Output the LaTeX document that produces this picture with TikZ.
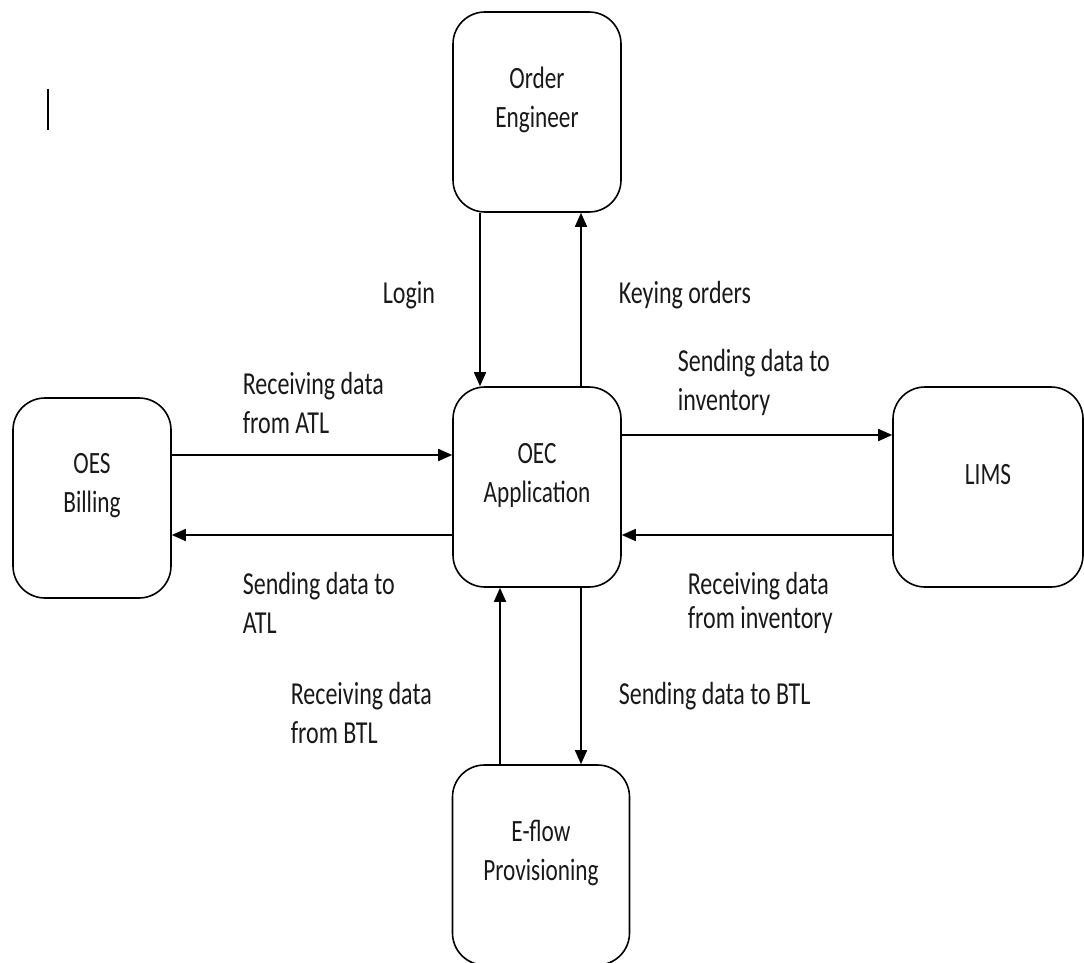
\documentclass[tikz,border=0pt]{standalone}
\usepackage{fontspec}
\setmainfont{Carlito}[FakeStretch=0.75]
\usetikzlibrary{arrows.meta}

\begin{document}
\begin{tikzpicture}[x=1pt,y=-1pt,line width=1.6pt,>={Triangle[length=14pt,width=12pt]}]

\newcommand{\hcaixa}{200}
\newcommand{\raio}{32pt}

\tikzstyle{caixa}=[draw,rounded corners=\raio,minimum height=\hcaixa,inner sep=0]
\tikzstyle{nome}=[align=center,font=\fontsize{31}{39}\selectfont,text=black!90]
\tikzstyle{fluxo}=[align=left,anchor=base west,inner sep=0,font=\fontsize{32}{39}\selectfont,text=black!90]

\newcommand{\bloco}[5]{
    \node[caixa,minimum width=#4] (#1) at (#2,#3) {};
    \node[nome] (#1txt) at ([yshift=12pt]#1.center) {#5};
}

\useasboundingbox (0,0) rectangle (1084,963);

% cursor mark
\draw[line width=2pt] (48,89) -- (48,130);

\bloco{engineer}{537}{112}{168}{Order\\Engineer}
\bloco{oec}{537}{487}{168}{OEC\\Application}
\bloco{billing}{92}{498}{158}{OES\\Billing}
\bloco{lims}{988}{487}{190}{LIMS}
\bloco{eflow}{541}{865}{177}{E-flow\\Provisioning}

% order engineer
\draw[->] ([xshift=-57pt]oec.north |- engineer.south) -- ([xshift=-57pt]oec.north);
\draw[->] ([xshift=44pt]oec.north) -- ([xshift=44pt]oec.north |- engineer.south);

% billing
\draw[->] ([yshift=32pt]oec.west -| billing.east) -- ([yshift=32pt]oec.west);
\draw[->] ([yshift=-48pt]oec.west) -- ([yshift=-48pt]oec.west -| billing.east);

% lims
\draw[->] ([yshift=52pt]oec.east) -- ([yshift=52pt]oec.east -| lims.west);
\draw[->] ([yshift=-48pt]oec.east -| lims.west) -- ([yshift=-48pt]oec.east);

% e-flow
\draw[->] ([xshift=-37pt]oec.south |- eflow.north) -- ([xshift=-37pt]oec.south);
\draw[->] ([xshift=44pt]oec.south) -- ([xshift=44pt]oec.south |- eflow.north);

% labels (base of last line)
\node[fluxo] (login) at (382,303) {Login};
\node[fluxo] (keying) at (618,303) {Keying orders};
\node[fluxo] (recatl) at (242,433) {Receiving data\\from ATL};
\node[fluxo] (sendatl) at (242,633) {Sending data to\\ATL};
\node[fluxo] (sendinv) at (677,410) {Sending data to\\inventory};
\node[fluxo] (recinv) at (687,628) {Receiving data\\[-5pt]from inventory};
\node[fluxo] (recbtl) at (290,743) {Receiving data\\from BTL};
\node[fluxo] (sendbtl) at (618,704) {Sending data to BTL};

\end{tikzpicture}
\end{document}
